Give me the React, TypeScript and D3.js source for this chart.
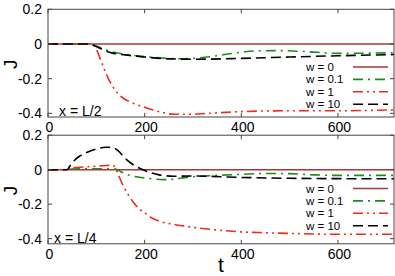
import React from "react";
import * as d3 from "d3";

const xTicks = [0, 200, 400, 600];
const yTicks = [0.2, 0, -0.2, -0.4];
const legendLabels = ["w = 0", "w = 0.1", "w = 1", "w = 10"];

// Top panel (x = L/2)
const topW0T = [0, 716];
const topW0J = [0, 0];
const topW01T = [0, 85, 100, 120, 150, 190, 230, 280, 330, 380, 430, 480, 540, 600, 660, 716];
const topW01J = [0, 0, -0.012, -0.035, -0.055, -0.07, -0.08, -0.085, -0.075, -0.055, -0.04, -0.038, -0.045, -0.054, -0.053, -0.05];
const topW1T = [0, 90, 100, 110, 120, 135, 150, 175, 200, 230, 260, 290, 330, 400, 500, 600, 716];
const topW1J = [0, 0, -0.03, -0.1, -0.17, -0.25, -0.3, -0.34, -0.365, -0.39, -0.405, -0.405, -0.4, -0.39, -0.385, -0.385, -0.38];
const topW10T = [0, 85, 100, 115, 130, 160, 200, 250, 300, 400, 500, 600, 716];
const topW10J = [0, 0, -0.015, -0.035, -0.05, -0.063, -0.075, -0.086, -0.088, -0.083, -0.075, -0.068, -0.061];

// Bottom panel (x = L/4)
const botW0T = [0, 716];
const botW0J = [0, 0];
const botW01T = [0, 40, 50, 80, 120, 140, 150, 163, 180, 211, 238, 260, 284, 305, 350, 400, 450, 500, 550, 600, 716];
const botW01J = [0, 0, 0.004, 0.005, 0.005, 0.003, -0.01, -0.027, -0.04, -0.052, -0.058, -0.055, -0.046, -0.04, -0.033, -0.027, -0.022, -0.023, -0.03, -0.033, -0.033];
const botW1T = [0, 40, 45, 60, 80, 100, 120, 135, 140, 147, 156, 165, 177, 190, 200, 215, 232, 255, 280, 305, 350, 400, 450, 500, 600, 716];
const botW1J = [0, 0, 0.01, 0.013, 0.017, 0.02, 0.024, 0.025, 0.005, -0.04, -0.095, -0.14, -0.19, -0.23, -0.25, -0.28, -0.3, -0.315, -0.326, -0.336, -0.35, -0.361, -0.366, -0.37, -0.375, -0.375];
const botW10T = [0, 40, 45, 55, 65, 80, 100, 120, 132, 145, 160, 180, 200, 230, 260, 300, 400, 500, 600, 716];
const botW10J = [0, 0, 0.02, 0.055, 0.078, 0.1, 0.12, 0.13, 0.13, 0.11, 0.065, 0.022, -0.005, -0.03, -0.038, -0.037, -0.045, -0.05, -0.052, -0.053];

const colors = ["#a33a36", "#1e8a1e", "#f02a1e", "#000000"];
const dashes = ["none", "10,5,2,5", "10,4,2,4,2,4", "10,5"];

const FONT = "'Liberation Sans', Arial, sans-serif";

const xScale = d3.scaleLinear().domain([0, 716]).range([48, 394]);

type Panel = {
  top: number;
  bottom: number;
  ymin: number;
  label: string;
  labelX: number;
  legendY: number;
  series: [number[], number[]][];
};

const panels: Panel[] = [
  {
    top: 9.3,
    bottom: 117,
    ymin: -0.421,
    label: "x = L/2",
    labelX: 59,
    legendY: 67,
    series: [
      [topW0T, topW0J],
      [topW01T, topW01J],
      [topW1T, topW1J],
      [topW10T, topW10J],
    ],
  },
  {
    top: 135.2,
    bottom: 243.8,
    ymin: -0.43,
    label: "x = L/4",
    labelX: 54,
    legendY: 188.5,
    series: [
      [botW0T, botW0J],
      [botW01T, botW01J],
      [botW1T, botW1J],
      [botW10T, botW10J],
    ],
  },
];

function PanelView({ p }: { p: Panel }) {
  const y = d3.scaleLinear().domain([p.ymin, 0.2]).range([p.bottom, p.top]);
  const [x0, x1] = xScale.range();
  const line = d3
    .line<[number, number]>()
    .x((d) => xScale(d[0]))
    .y((d) => y(d[1]))
    .curve(d3.curveMonotoneX);
  const clipId = `clip${Math.round(p.top)}`;
  return (
    <g>
      <defs>
        <clipPath id={clipId}>
          <rect x={x0} y={p.top} width={x1 - x0} height={p.bottom - p.top} />
        </clipPath>
      </defs>
      <g clipPath={`url(#${clipId})`}>
        {p.series.map(([ts, js], i) => (
          <path
            key={i}
            d={line(ts.map((t, k) => [t, js[k]]) as [number, number][]) || ""}
            fill="none"
            stroke={colors[i]}
            strokeWidth={1.6}
            strokeDasharray={dashes[i]}
          />
        ))}
      </g>
      <rect x={x0} y={p.top} width={x1 - x0} height={p.bottom - p.top} fill="none" stroke="#444" strokeWidth={1} />
      {xTicks.map((t) => (
        <g key={"x" + t}>
          <line x1={xScale(t)} x2={xScale(t)} y1={p.bottom} y2={p.bottom - 4} stroke="#444" />
          <line x1={xScale(t)} x2={xScale(t)} y1={p.top} y2={p.top + 4} stroke="#444" />
          <text x={xScale(t) + 1.5} y={p.bottom + 15} textAnchor="middle" fontSize={14} fontFamily={FONT} fill="#000">
            {t}
          </text>
        </g>
      ))}
      {yTicks.map((v) => (
        <g key={"y" + v}>
          <line x1={x0} x2={x0 + 4} y1={y(v)} y2={y(v)} stroke="#444" />
          <line x1={x1} x2={x1 - 4} y1={y(v)} y2={y(v)} stroke="#444" />
          <text x={42} y={y(v) + 5} textAnchor="end" fontSize={14} fontFamily={FONT} fill="#000">
            {v === 0 ? "0" : v.toFixed(1)}
          </text>
        </g>
      ))}
      <text x={p.labelX} y={p.bottom - 1} fontSize={14} fontFamily={FONT} fill="#000">
        {p.label}
      </text>
      {legendLabels.map((l, i) => {
        const ly = p.legendY + i * 12.4;
        return (
          <g key={l}>
            <text x={306} y={ly + 4} fontSize={11.5} fontFamily={FONT} fill="#000">
              {l}
            </text>
            <line x1={353} x2={388} y1={ly} y2={ly} stroke={colors[i]} strokeWidth={1.6} strokeDasharray={dashes[i]} />
          </g>
        );
      })}
      <text
        transform={`translate(17, ${(p.top + p.bottom) / 2 + 1}) rotate(-90)`}
        textAnchor="middle"
        fontSize={19}
        fontFamily={FONT}
        fill="#000"
      >
        J
      </text>
    </g>
  );
}

export default function App() {
  return (
    <svg width={395} height={276} style={{ position: "absolute", left: 0, top: 0, background: "#fff" }}>
      {panels.map((p, i) => (
        <PanelView key={i} p={p} />
      ))}
      <text x={221} y={272} textAnchor="middle" fontSize={21} fontFamily={FONT} fill="#000">
        t
      </text>
    </svg>
  );
}
